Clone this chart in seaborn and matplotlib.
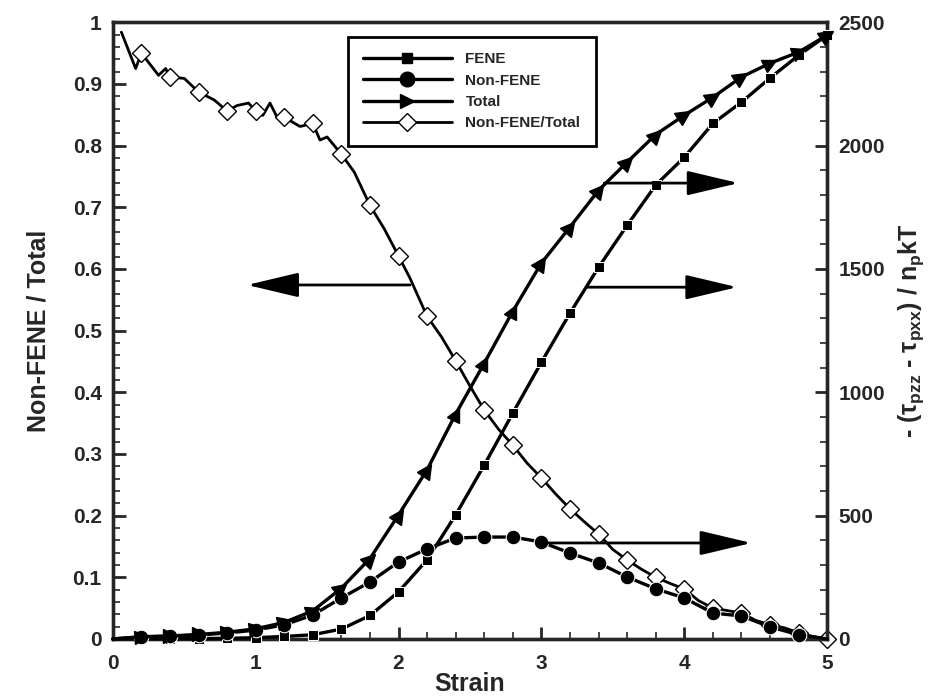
"""Non-FENE / Total stress ratio and stress components versus strain."""

import numpy as np
import matplotlib
matplotlib.use("Agg")
from matplotlib import pyplot as plt
from matplotlib.lines import Line2D
from matplotlib.markers import MarkerStyle
from matplotlib.ticker import MultipleLocator, FuncFormatter
from matplotlib.transforms import Affine2D
import seaborn as sns

# stress components, -(tau_pzz - tau_pxx)/n_p kT, right axis
strain = [0.0, 0.2, 0.4, 0.6, 0.8, 1.0, 1.2, 1.4, 1.6, 1.8, 2.0, 2.2, 2.4,
          2.6, 2.8, 3.0, 3.2, 3.4, 3.6, 3.8, 4.0, 4.2, 4.4, 4.6, 4.8, 5.0]
fene = [0, 0.5, 1, 1.5, 2.5, 5, 10, 17, 40, 95, 191, 321, 503,
        705, 916, 1122, 1321, 1507, 1677, 1840, 1953, 2090, 2176, 2274, 2366, 2448]
non_fene = [0, 8, 11, 16, 24, 36, 57, 97, 166, 231, 312, 365, 409,
            413, 413, 393, 348, 308, 251, 203, 166, 105, 93, 49, 17, 0]
total = [0, 9, 12, 18, 27, 41, 67, 114, 206, 326, 503, 686, 912,
         1118, 1329, 1524, 1670, 1819, 1933, 2045, 2123, 2196, 2278, 2334, 2379, 2448]

# ratio Non-FENE/Total, left axis (finer sampling, diamonds every 0.2)
ratio_strain = [0.06, 0.16, 0.2, 0.32, 0.37, 0.4, 0.5, 0.6, 0.71, 0.8, 0.87,
                0.95, 1.0, 1.05, 1.1, 1.15, 1.2, 1.31, 1.4, 1.45, 1.5, 1.6,
                1.69, 1.8, 1.9, 2.0, 2.08, 2.2, 2.3, 2.4, 2.5, 2.6, 2.7, 2.8,
                2.9, 3.0, 3.1, 3.2, 3.3, 3.4, 3.5, 3.6, 3.7, 3.8, 3.9, 4.0,
                4.1, 4.2, 4.3, 4.4, 4.5, 4.6, 4.7, 4.8, 4.9, 5.0]
ratio = [0.984, 0.925, 0.950, 0.914, 0.925, 0.911, 0.909, 0.887, 0.874, 0.856,
         0.865, 0.869, 0.856, 0.849, 0.869, 0.846, 0.846, 0.831, 0.836, 0.809,
         0.814, 0.786, 0.757, 0.703, 0.665, 0.621, 0.585, 0.523, 0.490, 0.451,
         0.410, 0.371, 0.340, 0.314, 0.285, 0.261, 0.235, 0.211, 0.190, 0.170,
         0.145, 0.128, 0.113, 0.100, 0.090, 0.081, 0.062, 0.050, 0.046, 0.042,
         0.030, 0.023, 0.018, 0.010, 0.004, 0.0]

legend_labels = ["FENE", "Non-FENE", "Total", "Non-FENE/Total"]

sns.set_style("ticks")
plt.rcParams["font.family"] = ["Liberation Sans", "DejaVu Sans"]
plt.rcParams["font.weight"] = "bold"
plt.rcParams["mathtext.fontset"] = "custom"
plt.rcParams["mathtext.rm"] = "Liberation Sans:bold"
plt.rcParams["mathtext.it"] = "Liberation Sans:bold"
plt.rcParams["mathtext.bf"] = "Liberation Sans:bold"

fig, ax = plt.subplots(figsize=(9.4, 6.96), dpi=100)
fig.subplots_adjust(left=0.120, right=0.880, bottom=0.082, top=0.968)
ax2 = ax.twinx()

ax.set_xlim(0, 5)
ax.set_ylim(0, 1)
ax2.set_ylim(0, 2500)

lw = 2.4
# ratio curve
diamond_idx = [i for i, s in enumerate(ratio_strain) if abs(s * 5 - round(s * 5)) < 1e-6]
sns.lineplot(x=ratio_strain, y=ratio, ax=ax, color="black", lw=2.0,
             estimator=None, sort=False, marker="D", markersize=9,
             markerfacecolor="white", markeredgecolor="black", markeredgewidth=1.0,
             markevery=diamond_idx, clip_on=False)

marker_idx = list(range(1, len(strain)))
sns.lineplot(x=strain, y=fene, ax=ax2, color="black", lw=lw, estimator=None,
             sort=False, marker="s", markersize=7.5, markevery=marker_idx,
             clip_on=False, zorder=3)
sns.lineplot(x=strain, y=non_fene, ax=ax2, color="black", lw=lw, estimator=None,
             sort=False, marker="o", markersize=10.5, markevery=marker_idx[:-1],
             clip_on=False, zorder=3)
sns.lineplot(x=strain, y=total, ax=ax2, color="black", lw=lw, estimator=None,
             sort=False, zorder=3)

# triangles on Total, oriented back along the curve (marker paths are drawn y-flipped)
pts = ax2.transData.transform(np.column_stack([strain, total]))
for i in marker_idx:
    dx, dy = pts[i] - pts[i - 1]
    ang = np.degrees(np.arctan2(dy, dx))
    ms = MarkerStyle(">", transform=Affine2D().rotate_deg(ang))
    ax2.plot([strain[i]], [total[i]], marker=ms, markersize=10, color="black",
             linestyle="none", clip_on=False, zorder=4)

# arrows pointing at the relevant axis
head = dict(arrowstyle="-|>,head_length=1.6,head_width=0.38", mutation_scale=20,
            color="black", lw=2.0, shrinkA=0, shrinkB=0)
ax.annotate("", xy=(0.94, 0.574), xytext=(2.08, 0.574), arrowprops=head)
ax2.annotate("", xy=(4.38, 1848), xytext=(3.44, 1848), arrowprops=head)
ax2.annotate("", xy=(4.37, 1426), xytext=(3.32, 1426), arrowprops=head)
ax2.annotate("", xy=(4.47, 389), xytext=(3.02, 389), arrowprops=head)

# ticks
fmt = FuncFormatter(lambda v, p: "%g" % round(v, 3))
ax.xaxis.set_major_locator(MultipleLocator(1))
ax.xaxis.set_minor_locator(MultipleLocator(0.2))
ax.yaxis.set_major_locator(MultipleLocator(0.1))
ax.yaxis.set_minor_locator(MultipleLocator(0.02))
ax.yaxis.set_major_formatter(fmt)
ax.xaxis.set_major_formatter(fmt)
ax2.yaxis.set_major_locator(MultipleLocator(500))
ax2.yaxis.set_minor_locator(MultipleLocator(100))
for a in (ax, ax2):
    a.tick_params(which="major", direction="in", length=9, width=2, labelsize=15, pad=8)
    a.tick_params(which="minor", direction="in", length=5, width=1.2)
    for sp in a.spines.values():
        sp.set_linewidth(2.4)
        sp.set_visible(True)
ax.tick_params(axis="x", which="major", pad=11)
for lab in ax.get_xticklabels() + ax.get_yticklabels() + ax2.get_yticklabels():
    lab.set_fontweight("bold")

ax.set_xlabel("Strain", fontsize=18, fontweight="bold", labelpad=-1)
ax.set_ylabel("Non-FENE / Total", fontsize=18, fontweight="bold", labelpad=16)
ax2.set_ylabel(r"- ($\tau_{pzz}$ - $\tau_{pxx}$) / n$_{p}$kT", fontsize=18,
               fontweight="bold", labelpad=8)

handles = [
    Line2D([], [], color="black", lw=lw, marker="s", markersize=7.5),
    Line2D([], [], color="black", lw=lw, marker="o", markersize=10.5),
    Line2D([], [], color="black", lw=lw, marker=">", markersize=10),
    Line2D([], [], color="black", lw=2.0, marker="D", markersize=9,
           markerfacecolor="white", markeredgewidth=1.0),
]
leg = ax2.legend(handles, legend_labels, loc="upper left",
                 bbox_to_anchor=(0.329, 0.976), borderaxespad=0,
                 handlelength=5.8, frameon=True, fancybox=False, framealpha=1,
                 edgecolor="black", borderpad=1.0, labelspacing=0.48,
                 handletextpad=0.9, prop=dict(weight="bold", size=11))
leg.get_frame().set_linewidth(2.0)

fig.savefig("out.png", dpi=100)
